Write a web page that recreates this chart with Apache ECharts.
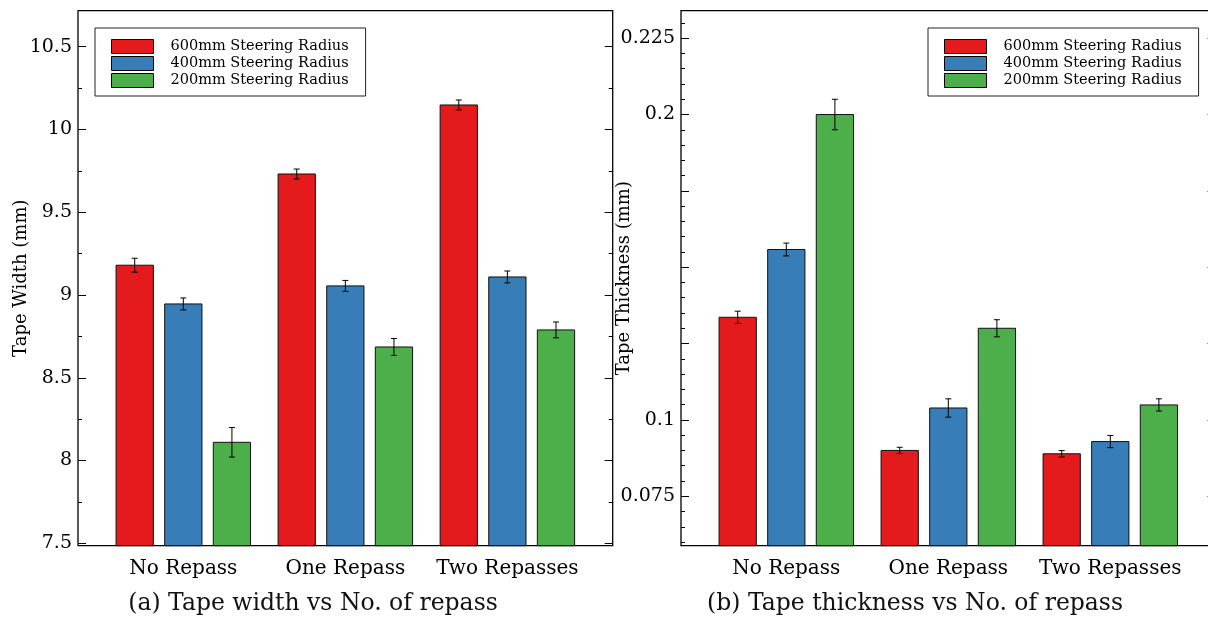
<!DOCTYPE html>
<html>
<head>
<meta charset="utf-8">
<script src="https://cdn.jsdelivr.net/npm/echarts@6/dist/echarts.min.js"></script>
<style>
  html, body { margin: 0; padding: 0; background: #fff; }
  #chart { width: 1208px; height: 617px; }
</style>
</head>
<body>
<div id="chart"></div>
<script>
// Repass groups and steering radii
const categories = ['No Repass', 'One Repass', 'Two Repasses'];
const seriesNames = ['600mm Steering Radius', '400mm Steering Radius', '200mm Steering Radius'];
const seriesColors = ['#e41a1c', '#377eb8', '#4daf4a'];

// Tape width (mm): mean and error per repass group
const width600 = [9.18, 9.731, 10.148];
const width400 = [8.946, 9.055, 9.109];
const width200 = [8.11, 8.686, 8.789];
const widthErr600 = [0.042, 0.03, 0.03];
const widthErr400 = [0.036, 0.033, 0.036];
const widthErr200 = [0.089, 0.051, 0.048];

// Tape thickness (mm): mean and error per repass group
const thick600 = [0.1336, 0.09, 0.0889];
const thick400 = [0.1558, 0.1039, 0.0929];
const thick200 = [0.2, 0.13, 0.1049];
const thickErr600 = [0.002, 0.00104, 0.00104];
const thickErr400 = [0.0021, 0.003, 0.002];
const thickErr200 = [0.005, 0.0028, 0.002];

// Axis ranges and tick labels
const widthRange = [7.4855, 10.7175];
const widthTicks = [7.5, 8, 8.5, 9, 9.5, 10, 10.5];
const widthMinorStep = 0.25;
const thickRange = [0.0588, 0.234];
const thickTicks = [0.075, 0.1, 0.125, 0.15, 0.175, 0.2, 0.225];
const thickLabelled = [0.075, 0.1, 0.2, 0.225];
const thickMinorStep = 0.005;
const xRange = [-0.65, 2.65];

const captions = ['(a) Tape width vs No. of repass', '(b) Tape thickness vs No. of repass'];

const SERIF = 'DejaVu Serif';
const BAR_W = 0.23;      // bar width in category units
const BAR_STEP = 0.3;    // distance between neighbouring bars in a group
const CAP = 3;           // half width of error bar caps, px

function minorTicks(range, step, majors) {
  const out = [];
  const start = Math.ceil(range[0] / step - 1e-9);
  const end = Math.floor(range[1] / step + 1e-9);
  for (let k = start; k <= end; k++) {
    const v = +(k * step).toFixed(6);
    if (!majors.some(m => Math.abs(m - v) < 1e-9)) out.push(v);
  }
  return out;
}

function makeRender(offset, axisMin) {
  return function (params, api) {
    const x = api.value(0) + offset;
    const v = api.value(1);
    const e = api.value(2);
    const top = api.coord([x, v]);
    const base = api.coord([x, axisMin]);
    const hi = api.coord([x, v + e]);
    const lo = api.coord([x, v - e]);
    const w = api.size([BAR_W, 0])[0];
    const cx = top[0];
    const ls = { stroke: '#000', lineWidth: 1 };
    return {
      type: 'group',
      children: [
        { type: 'rect', shape: { x: cx - w / 2, y: top[1], width: w, height: base[1] - top[1] },
          style: { fill: api.visual('color'), stroke: '#111', lineWidth: 1 } },
        { type: 'line', shape: { x1: cx, y1: hi[1], x2: cx, y2: lo[1] }, style: ls },
        { type: 'line', shape: { x1: cx - CAP, y1: hi[1], x2: cx + CAP, y2: hi[1] }, style: ls },
        { type: 'line', shape: { x1: cx - CAP, y1: lo[1], x2: cx + CAP, y2: lo[1] }, style: ls }
      ]
    };
  };
}

function barSeries(gridIdx, yAxisIdx, s, values, errs, axisMin) {
  return {
    type: 'custom',
    name: seriesNames[s],
    xAxisIndex: gridIdx,
    yAxisIndex: yAxisIdx,
    itemStyle: { color: seriesColors[s] },
    encode: { x: 0, y: 1 },
    renderItem: makeRender((s - 1) * BAR_STEP, axisMin),
    data: categories.map((c, i) => [i, values[i], errs[i]]),
    z: 3
  };
}

function xAxis(gridIdx) {
  return {
    type: 'value', gridIndex: gridIdx, min: xRange[0], max: xRange[1],
    axisLine: { show: false, onZero: false }, axisTick: { show: false }, splitLine: { show: false },
    axisLabel: {
      customValues: [0, 1, 2],
      formatter: v => categories[Math.round(v)],
      fontFamily: SERIF, fontSize: 20, color: '#000', margin: 13
    }
  };
}

function yAxes(gridIdx, range, majors, labelled, minors, name) {
  const common = {
    type: 'value', gridIndex: gridIdx, min: range[0], max: range[1],
    axisLine: { show: false, onZero: false }, splitLine: { show: false }
  };
  const tick = (vals, len) => ({ show: true, inside: true, length: len, customValues: vals,
    lineStyle: { color: '#000', width: 1 } });
  return [
    Object.assign({}, common, {
      position: 'left', axisTick: tick(majors, 8),
      axisLabel: { customValues: labelled, fontFamily: SERIF, fontSize: 19, color: '#000', margin: 6 },
      name: name, nameLocation: 'middle', nameGap: 48, nameMoveOverlap: false,
      nameTextStyle: { fontFamily: SERIF, fontSize: 18, color: '#000' }
    }),
    Object.assign({}, common, { position: 'left', axisTick: tick(minors, 4), axisLabel: { show: false } }),
    Object.assign({}, common, { position: 'right', axisTick: tick(majors, 8), axisLabel: { show: false } }),
    Object.assign({}, common, { position: 'right', axisTick: tick(minors, 4), axisLabel: { show: false } })
  ];
}

function legend(left) {
  return {
    orient: 'vertical', left: left, top: 28,
    data: seriesNames, icon: 'rect',
    itemWidth: 42, itemHeight: 14, itemGap: 2,
    itemStyle: { borderColor: '#000', borderWidth: 1 },
    backgroundColor: '#fff', borderColor: '#222', borderWidth: 1,
    padding: [11, 17, 8, 16],
    selectedMode: false,
    textStyle: { fontFamily: SERIF, fontSize: 14.5, color: '#000', lineHeight: 14, padding: [0, 0, 0, 12] }
  };
}

const widthMinors = minorTicks(widthRange, widthMinorStep, widthTicks);
const thickMinors = minorTicks(thickRange, thickMinorStep, thickTicks);

const option = {
  backgroundColor: '#fff',
  animation: false,
  grid: [
    { left: 78, right: 595.3, top: 10.7, bottom: 71.3, show: true, borderColor: '#000', borderWidth: 1.3,
      backgroundColor: 'transparent', outerBoundsMode: 'none', containLabel: false },
    { left: 681, right: -7.6, top: 10.7, bottom: 71.3, show: true, borderColor: '#000', borderWidth: 1.3,
      backgroundColor: 'transparent', outerBoundsMode: 'none', containLabel: false }
  ],
  xAxis: [xAxis(0), xAxis(1)],
  yAxis: [].concat(
    yAxes(0, widthRange, widthTicks, widthTicks, widthMinors, 'Tape Width (mm)'),
    yAxes(1, thickRange, thickTicks, thickLabelled, thickMinors, 'Tape Thickness (mm)')
  ),
  legend: [legend(95), legend(928)],
  series: [
    barSeries(0, 0, 0, width600, widthErr600, widthRange[0]),
    barSeries(0, 0, 1, width400, widthErr400, widthRange[0]),
    barSeries(0, 0, 2, width200, widthErr200, widthRange[0]),
    barSeries(1, 4, 0, thick600, thickErr600, thickRange[0]),
    barSeries(1, 4, 1, thick400, thickErr400, thickRange[0]),
    barSeries(1, 4, 2, thick200, thickErr200, thickRange[0])
  ],
  graphic: [
    { type: 'text', x: 313, y: 604, style: { text: captions[0], align: 'center', verticalAlign: 'middle',
      font: '23.5px "' + SERIF + '"', fill: '#111' } },
    { type: 'text', x: 915, y: 604, style: { text: captions[1], align: 'center', verticalAlign: 'middle',
      font: '23.5px "' + SERIF + '"', fill: '#111' } }
  ]
};

const chart = echarts.init(document.getElementById('chart'), null, { renderer: 'canvas' });
chart.setOption(option);
</script>
</body>
</html>
